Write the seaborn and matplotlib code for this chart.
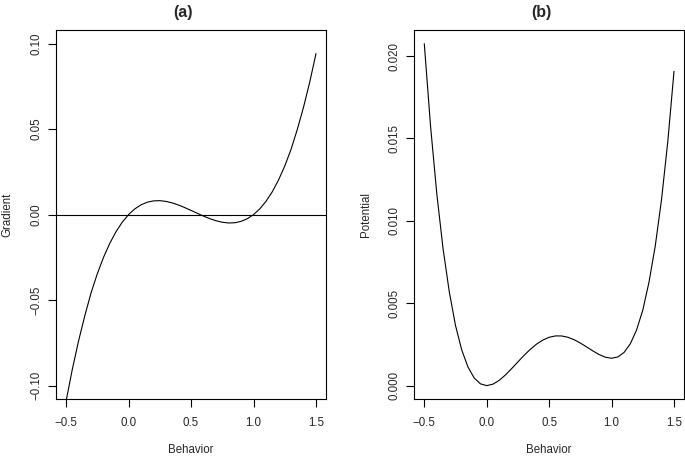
import matplotlib
matplotlib.use("Agg")
import matplotlib.pyplot as plt
import seaborn as sns
import pandas as pd

behavior = [-0.50, -0.45, -0.40, -0.35, -0.30, -0.25, -0.20, -0.15, -0.10, -0.05,
            0.00, 0.05, 0.10, 0.15, 0.20, 0.25, 0.30, 0.35, 0.40, 0.45,
            0.50, 0.55, 0.60, 0.65, 0.70, 0.75, 0.80, 0.85, 0.90, 0.95,
            1.00, 1.05, 1.10, 1.15, 1.20, 1.25, 1.30, 1.35, 1.40, 1.45, 1.50]

gradient = [-0.10929, -0.09065, -0.07401, -0.05924, -0.04588, -0.03466, -0.02500, -0.01681, -0.00998, -0.00441,
            0.00000, 0.00335, 0.00574, 0.00728, 0.00805, 0.00818, 0.00775, 0.00686, 0.00562, 0.00413,
            0.00249, 0.00080, -0.00084, -0.00233, -0.00356, -0.00444, -0.00487, -0.00474, -0.00395, -0.00240,
            0.00000, 0.00336, 0.00779, 0.01337, 0.02022, 0.02843, 0.03811, 0.04974, 0.06276, 0.07756, 0.09423]

potential = [0.020753, 0.015763, 0.011654, 0.008331, 0.005701, 0.003649, 0.002164, 0.001125, 0.000460, 0.000106,
             0.000000, 0.000088, 0.000319, 0.000648, 0.001034, 0.001442, 0.001843, 0.002209, 0.002523, 0.002767,
             0.002933, 0.003016, 0.003014, 0.002934, 0.002785, 0.002584, 0.002349, 0.002106, 0.001886, 0.001724,
             0.001660, 0.001740, 0.002014, 0.002538, 0.003372, 0.004583, 0.006290, 0.008487, 0.011293, 0.014793, 0.019079]

x_ticks = [-0.5, 0.0, 0.5, 1.0, 1.5]
x_labels = ["\u22120.5", "0.0", "0.5", "1.0", "1.5"]
grad_ticks = [-0.10, -0.05, 0.00, 0.05, 0.10]
grad_labels = ["\u22120.10", "\u22120.05", "0.00", "0.05", "0.10"]
pot_ticks = [0.000, 0.005, 0.010, 0.015, 0.020]
pot_labels = ["0.000", "0.005", "0.010", "0.015", "0.020"]

sns.set_style("white")
plt.rcParams['font.family'] = ['Liberation Sans', 'DejaVu Sans']

df = pd.DataFrame({"Behavior": behavior, "Gradient": gradient, "Potential": potential})

W, H = 685, 458
fig = plt.figure(figsize=(W / 100, H / 100), dpi=100)

def px_axes(x0, y0, x1, y1):
    return fig.add_axes([x0 / W, 1 - y1 / H, (x1 - x0) / W, (y1 - y0) / H])

ax1 = px_axes(56, 30, 326, 399.3)
ax2 = px_axes(414.3, 30, 684, 399.3)

fs = 8.3
for ax in (ax1, ax2):
    for s in ax.spines.values():
        s.set_color("black")
        s.set_linewidth(0.8)
    ax.tick_params(axis="both", direction="out", length=5.5, width=0.8, color="black",
                   labelsize=fs, left=True, bottom=True)
    ax.tick_params(axis="x", pad=7)
    ax.tick_params(axis="y", pad=4.5)
    ax.set_xlim(-0.58, 1.58)
    ax.set_xticks(x_ticks)
    ax.set_xticklabels(x_labels)
    ax.set_facecolor("white")

sns.lineplot(data=df, x="Behavior", y="Gradient", color="black", linewidth=0.8, ax=ax1)
ax1.axhline(0, color="black", linewidth=0.8)
ax1.set_ylim(-0.108, 0.108)
ax1.set_yticks(grad_ticks)
ax1.set_yticklabels(grad_labels, rotation=90, va="center")

sns.lineplot(data=df, x="Behavior", y="Potential", color="black", linewidth=0.8, ax=ax2)
ax2.set_ylim(-0.000831, 0.021584)
ax2.set_yticks(pot_ticks)
ax2.set_yticklabels(pot_labels, rotation=90, va="center")

for ax, lab, xl in ((ax1, "Gradient", 7.5), (ax2, "Potential", 365.5)):
    ax.set_xlabel("")
    ax.set_ylabel("")
    fig.text(xl / W, 1 - 214.6 / H, lab, rotation=90, ha="center", va="center", fontsize=fs)

fig.text(191 / W, 1 - 449.7 / H, "Behavior", ha="center", va="center", fontsize=fs)
fig.text(549 / W, 1 - 449.7 / H, "Behavior", ha="center", va="center", fontsize=fs)

fig.text(182.5 / W, 1 - 12 / H, "(a)", ha="center", va="center", fontsize=11.5, fontweight="bold")
fig.text(541.7 / W, 1 - 12 / H, "(b)", ha="center", va="center", fontsize=11.5, fontweight="bold")

fig.savefig("out.png", dpi=100, facecolor="white")
